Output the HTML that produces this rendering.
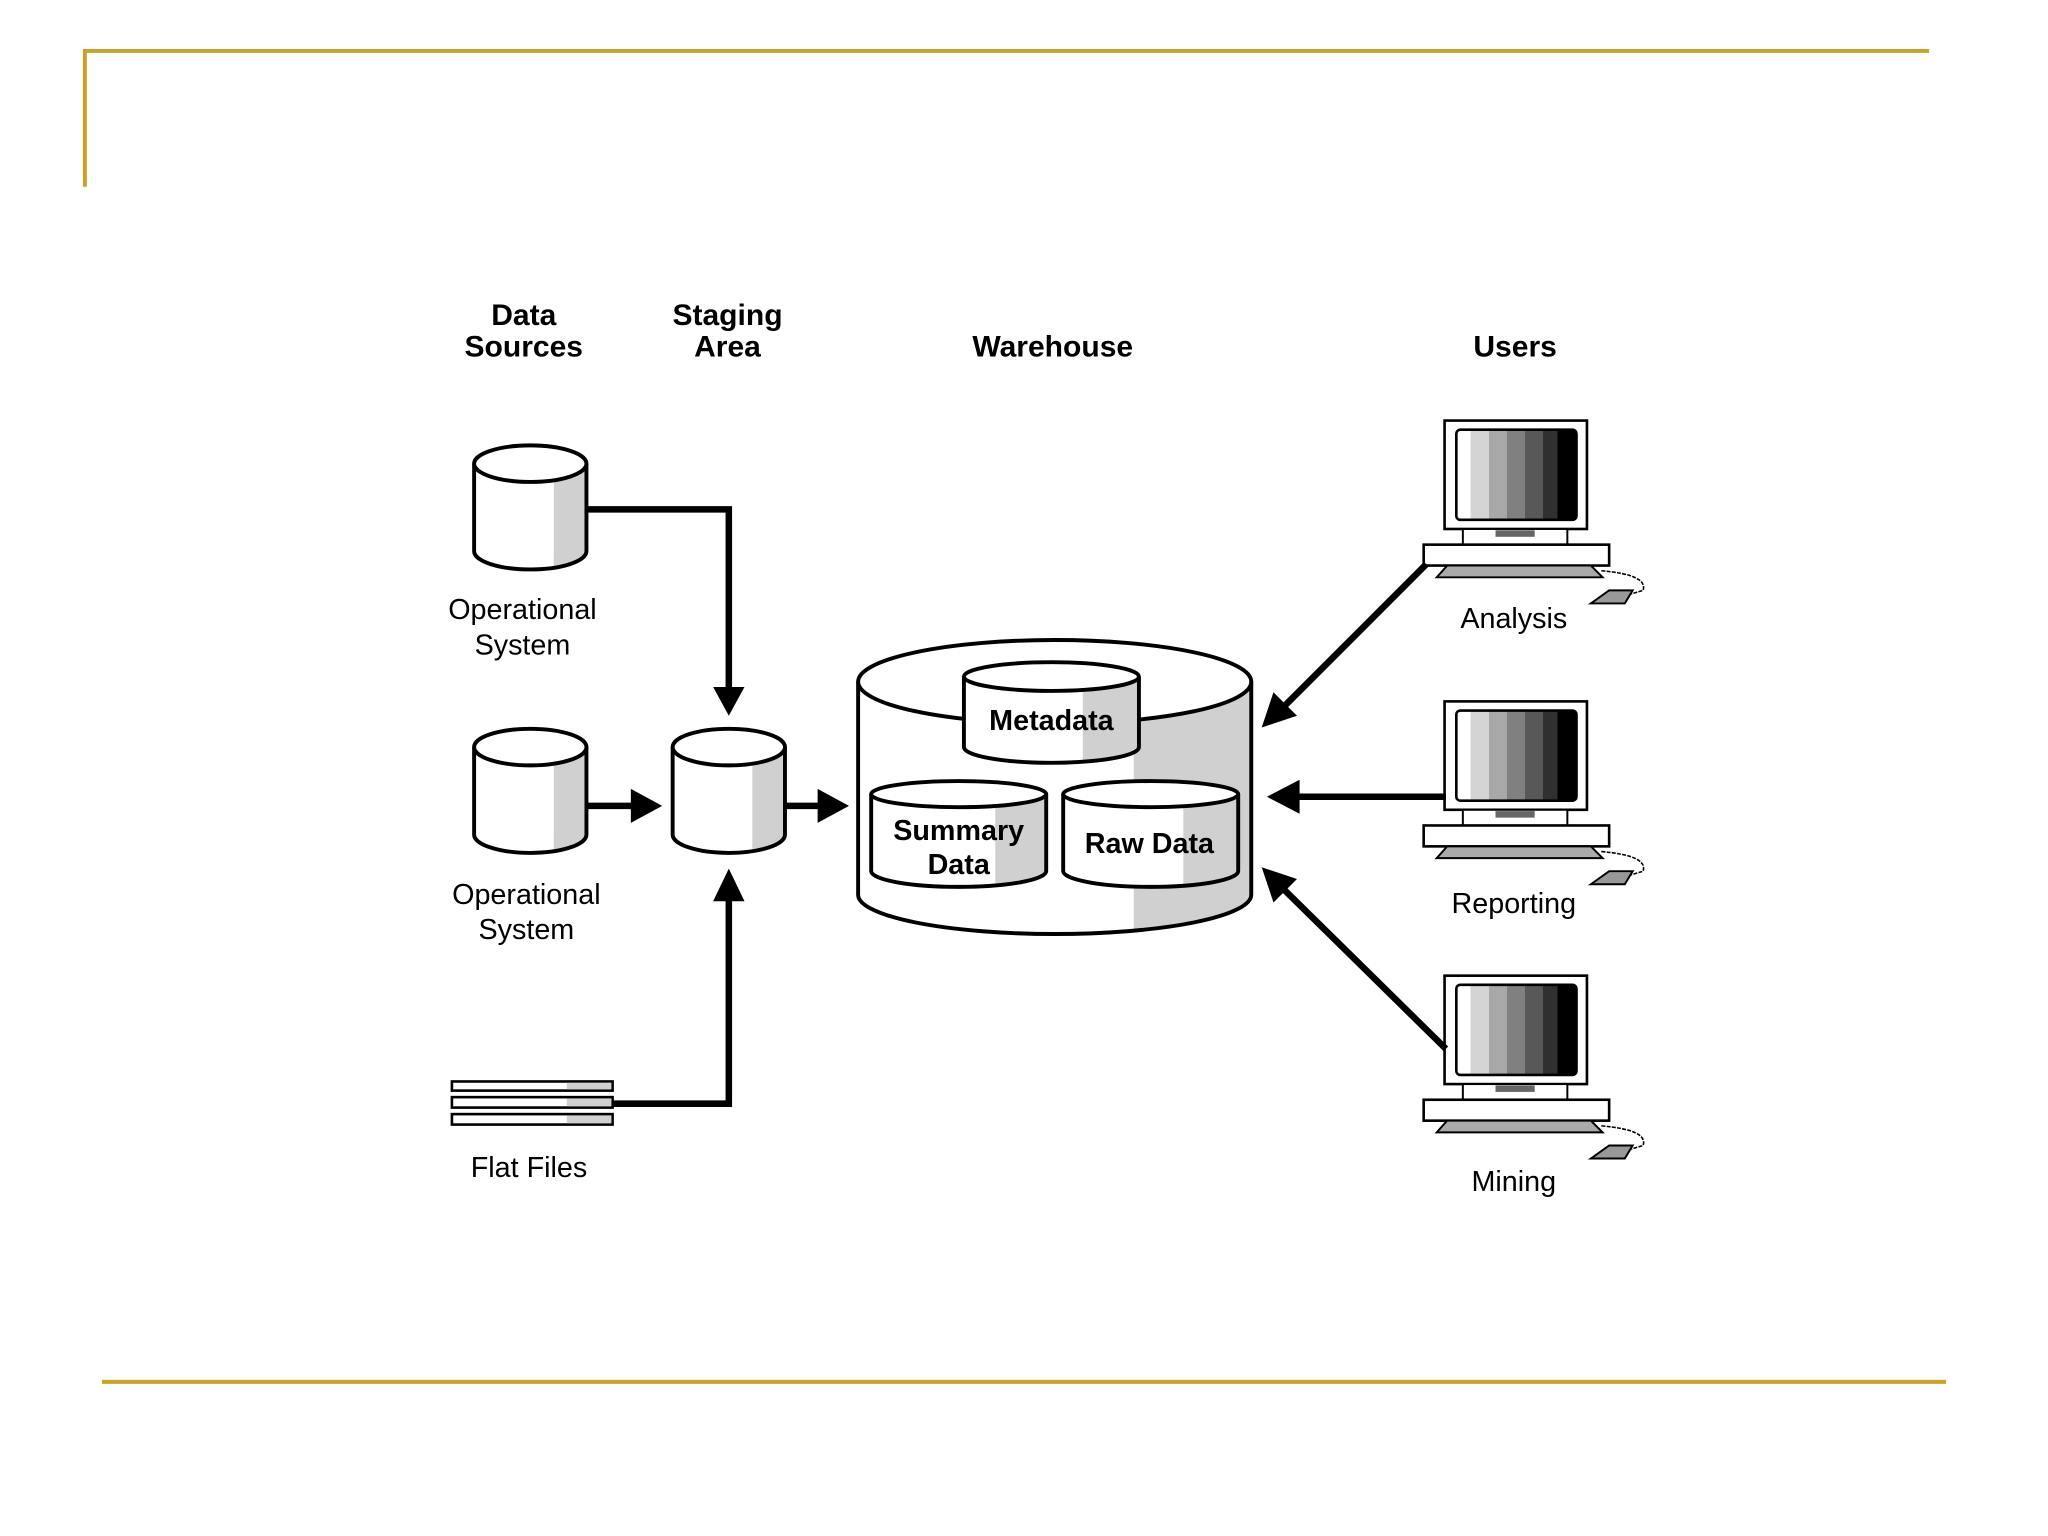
<!DOCTYPE html>
<html><head><meta charset="utf-8"><style>
html,body{margin:0;padding:0;background:#fff;}
svg{display:block;}
text{font-family:"Liberation Sans",sans-serif;fill:#000;text-anchor:middle;}
.h{font-weight:bold;font-size:23px;}
.n{font-size:22px;}
</style></head><body>
<svg width="2048" height="1536" viewBox="0 0 1568 1176" xmlns="http://www.w3.org/2000/svg">
<defs>
<linearGradient id="scr" x1="0" x2="1" y1="0" y2="0">
<stop offset="0" stop-color="#fff"/><stop offset="0.12" stop-color="#fff"/>
<stop offset="0.12" stop-color="#d4d4d4"/><stop offset="0.27" stop-color="#d4d4d4"/>
<stop offset="0.27" stop-color="#a8a8a8"/><stop offset="0.42" stop-color="#a8a8a8"/>
<stop offset="0.42" stop-color="#808080"/><stop offset="0.57" stop-color="#808080"/>
<stop offset="0.57" stop-color="#585858"/><stop offset="0.72" stop-color="#585858"/>
<stop offset="0.72" stop-color="#303030"/><stop offset="0.84" stop-color="#303030"/>
<stop offset="0.84" stop-color="#000"/><stop offset="1" stop-color="#000"/>
</linearGradient>
<g id="cyl">
<path d="M0,15 L0,82 A43,14 0 0 0 86,82 L86,15 Z" fill="#fff"/>
<path d="M61,15 L61,94 A43,14 0 0 0 86,82 L86,15 Z" fill="#d0d0d0"/>
<path d="M0,15 L0,82 A43,14 0 0 0 86,82 L86,15" fill="none" stroke="#000" stroke-width="3"/>
<ellipse cx="43" cy="15" rx="43" ry="14" fill="#fff" stroke="#000" stroke-width="3"/>
</g>
<g id="pc">
<rect x="1106" y="322" width="109" height="83" fill="#fff" stroke="#000" stroke-width="2"/>
<rect x="1115" y="329" width="92" height="69" rx="3" fill="url(#scr)" stroke="#000" stroke-width="2"/>
<rect x="1120" y="405" width="80" height="12" fill="#fff" stroke="#000" stroke-width="1.5"/>
<rect x="1145" y="406" width="30" height="5" fill="#666"/>
<rect x="1090" y="417" width="142" height="16" fill="#fff" stroke="#000" stroke-width="2"/>
<path d="M1108,433 L1218,433 L1227,442 L1100,442 Z" fill="#aaa" stroke="#000" stroke-width="1.5"/>
<path d="M1226,437 Q1262,440 1258,452 L1248,455" fill="none" stroke="#000" stroke-width="1.2" stroke-dasharray="3,1"/>
<path d="M1218,462 L1232,452 L1250,452 L1244,462 Z" fill="#999" stroke="#000" stroke-width="1.5"/>
</g>
</defs>

<path d="M65,143 L65,39 L1477,39" fill="none" stroke="#C9A227" stroke-width="3"/>
<line x1="78" y1="1058" x2="1490" y2="1058" stroke="#C9A227" stroke-width="3"/>

<text class="h" x="401" y="249">Data</text>
<text class="h" x="401" y="273">Sources</text>
<text class="h" x="557" y="249">Staging</text>
<text class="h" x="557" y="273">Area</text>
<text class="h" x="806" y="273">Warehouse</text>
<text class="h" x="1160" y="273">Users</text>

<use href="#cyl" x="363" y="340"/>
<use href="#cyl" x="363" y="557"/>
<use href="#cyl" x="515" y="557"/>
<text class="n" x="400" y="474">Operational</text>
<text class="n" x="400" y="501">System</text>
<text class="n" x="403" y="692">Operational</text>
<text class="n" x="403" y="719">System</text>

<g stroke="#000" stroke-width="2">
<rect x="346" y="828" width="123" height="7" fill="#fff"/>
<rect x="346" y="840" width="123" height="8" fill="#fff"/>
<rect x="346" y="853" width="123" height="8" fill="#fff"/>
</g>
<rect x="434" y="829" width="34" height="5" fill="#d0d0d0"/>
<rect x="434" y="841" width="34" height="6" fill="#d0d0d0"/>
<rect x="434" y="854" width="34" height="6" fill="#d0d0d0"/>
<text class="n" x="405" y="901">Flat Files</text>

<g fill="none" stroke="#000" stroke-width="5">
<path d="M449,390 L558,390 L558,530"/>
<path d="M469,845 L558,845 L558,686"/>
<line x1="449" y1="617" x2="485" y2="617"/>
<line x1="601" y1="617" x2="628" y2="617"/>
</g>
<g fill="#000">
<path d="M546,526 L570,526 L558,548 Z"/>
<path d="M546,690 L570,690 L558,665 Z"/>
<path d="M483,604 L483,630 L507,617 Z"/>
<path d="M626,604 L626,630 L650,617 Z"/>
</g>

<path d="M657,522 L657,685 A150,30 0 0 0 958,685 L958,522 Z" fill="#fff"/>
<path d="M868,522 L868,713 A150,30 0 0 0 958,685 L958,522 Z" fill="#d0d0d0"/>
<path d="M657,522 L657,685 A150,30 0 0 0 958,685 L958,522" fill="none" stroke="#000" stroke-width="3"/>
<ellipse cx="807.5" cy="522" rx="150.5" ry="32" fill="#fff" stroke="#000" stroke-width="3"/>
<path d="M738,518 L738,572 A67,12 0 0 0 872,572 L872,518 Z" fill="#fff"/>
<path d="M829,518 L829,583 A67,12 0 0 0 872,572 L872,518 Z" fill="#d0d0d0"/>
<path d="M738,518 L738,572 A67,12 0 0 0 872,572 L872,518" fill="none" stroke="#000" stroke-width="3"/>
<ellipse cx="805" cy="518" rx="67" ry="11" fill="#fff" stroke="#000" stroke-width="3"/>
<text class="h" x="805" y="559" style="font-size:22px">Metadata</text>
<path d="M667,608 L667,667 A67,12 0 0 0 801,667 L801,608 Z" fill="#fff"/>
<path d="M762,608 L762,678 A67,12 0 0 0 801,667 L801,608 Z" fill="#d0d0d0"/>
<path d="M667,608 L667,667 A67,12 0 0 0 801,667 L801,608" fill="none" stroke="#000" stroke-width="3"/>
<ellipse cx="734" cy="608" rx="67" ry="10" fill="#fff" stroke="#000" stroke-width="3"/>
<text class="h" x="734" y="643" style="font-size:22px">Summary</text>
<text class="h" x="734" y="669" style="font-size:22px">Data</text>
<path d="M814,608 L814,667 A67,12 0 0 0 948,667 L948,608 Z" fill="#fff"/>
<path d="M906,608 L906,678 A67,12 0 0 0 948,667 L948,608 Z" fill="#d0d0d0"/>
<path d="M814,608 L814,667 A67,12 0 0 0 948,667 L948,608" fill="none" stroke="#000" stroke-width="3"/>
<ellipse cx="881" cy="608" rx="67" ry="10" fill="#fff" stroke="#000" stroke-width="3"/>
<text class="h" x="880" y="653" style="font-size:22px">Raw Data</text>

<use href="#pc"/>
<use href="#pc" y="215"/>
<use href="#pc" y="425"/>
<text class="n" x="1159" y="481">Analysis</text>
<text class="n" x="1159" y="699">Reporting</text>
<text class="n" x="1159" y="912">Mining</text>

<g fill="none" stroke="#000" stroke-width="5">
<line x1="1092" y1="432" x2="983" y2="541"/>
<line x1="1107" y1="610" x2="990" y2="610"/>
<line x1="1107" y1="803" x2="983" y2="681"/>
</g>
<g fill="#000">
<path d="M966,557 L975,530 L993,548 Z"/>
<path d="M970,610 L995,597 L995,623 Z"/>
<path d="M966,664 L993,673 L975,691 Z"/>
</g>
</svg>
</body></html>
